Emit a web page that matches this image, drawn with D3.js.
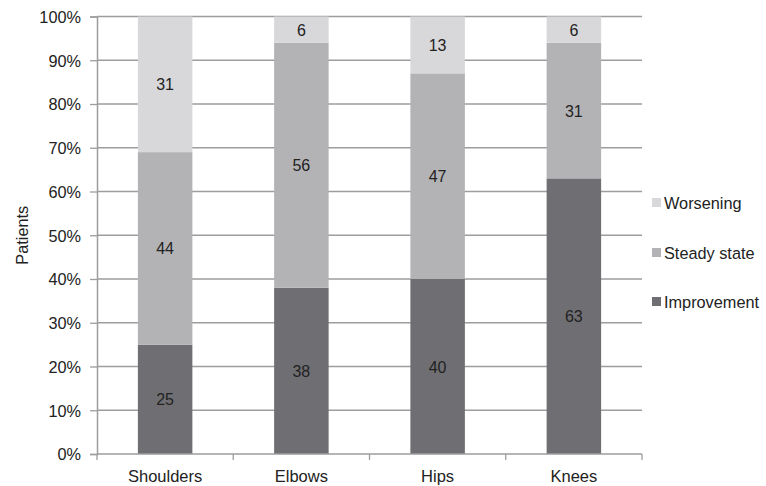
<!DOCTYPE html>
<html><head><meta charset="utf-8">
<script src="https://cdn.jsdelivr.net/npm/d3@7"></script>
<style>body{margin:0;background:#fff}svg{display:block}text{font-family:"Liberation Sans",Arial,Helvetica,sans-serif;fill:#222}</style>
</head><body><svg id="c" width="766" height="486"></svg>
<script>
const categories = ["Shoulders", "Elbows", "Hips", "Knees"];
const improvement = [25, 38, 40, 63];
const steadyState = [44, 56, 47, 31];
const worsening = [31, 6, 13, 6];
const seriesNames = ["Improvement", "Steady state", "Worsening"];
const seriesColors = ["#6f6f73", "#b3b3b6", "#d8d8da"];
const yTicks = [0, 10, 20, 30, 40, 50, 60, 70, 80, 90, 100];

const svg = d3.select("#c");
const m = {l: 97, r: 124, t: 16.5, b: 32};
const W = 766, H = 486;
const x = d3.scaleBand().domain(categories).range([m.l, W - m.r]).paddingInner(0.6).paddingOuter(0.3);
const y = d3.scaleLinear().domain([0, 100]).range([H - m.b, m.t]);
const xb = d3.scaleBand().domain(categories).range([m.l, W - m.r]);

// gridlines
svg.append("g").selectAll("line").data(yTicks.filter(d => d > 0)).join("line")
  .attr("x1", m.l).attr("x2", W - m.r).attr("y1", d => y(d)).attr("y2", d => y(d))
  .attr("stroke", "#9d9d9f").attr("stroke-width", 1.3);

const rows = categories.map((c, i) => ({cat: c, Improvement: improvement[i], "Steady state": steadyState[i], Worsening: worsening[i]}));
const stack = d3.stack().keys(seriesNames)(rows);
const color = d3.scaleOrdinal().domain(seriesNames).range(seriesColors);

const g = svg.append("g");
stack.forEach(s => {
  g.append("g").selectAll("rect").data(s).join("rect")
    .attr("x", d => x(d.data.cat)).attr("width", x.bandwidth())
    .attr("y", d => y(d[1])).attr("height", d => y(d[0]) - y(d[1]))
    .attr("fill", color(s.key));
  g.append("g").selectAll("text").data(s).join("text")
    .attr("x", d => x(d.data.cat) + x.bandwidth() / 2)
    .attr("y", d => (y(d[0]) + y(d[1])) / 2 + 6)
    .attr("text-anchor", "middle").attr("font-size", 16)
    .text(d => d[1] - d[0]);
});

// y axis
const yAxis = d3.axisLeft(y).tickValues(yTicks).tickFormat(d => d + "%").tickSize(7).tickPadding(9);
const ya = svg.append("g").attr("transform", `translate(${m.l},0)`).call(yAxis);
ya.select(".domain").attr("stroke", "#9d9d9f").attr("stroke-width", 1.5);
ya.selectAll(".tick line").attr("stroke", "#9d9d9f").attr("stroke-width", 1.3);
ya.selectAll(".tick text").attr("font-size", 16.3).attr("fill", "#222").attr("font-family", "Liberation Sans, Arial, sans-serif").attr("dy", "0.36em");

// x axis
const xa = svg.append("g").attr("transform", `translate(0,${H - m.b})`);
xa.append("line").attr("x1", m.l).attr("x2", W - m.r).attr("stroke", "#9d9d9f").attr("stroke-width", 1.5);
const bounds = categories.map(c => xb(c)).concat([W - m.r]);
xa.selectAll("line.t").data(bounds).join("line").attr("class", "t")
  .attr("x1", d => d).attr("x2", d => d).attr("y1", 0).attr("y2", 6)
  .attr("stroke", "#9d9d9f").attr("stroke-width", 1.3);
xa.selectAll("text").data(categories).join("text")
  .attr("x", d => xb(d) + xb.bandwidth() / 2).attr("y", 28)
  .attr("text-anchor", "middle").attr("font-size", 16.5).text(d => d);

// y title
svg.append("text").attr("transform", `translate(28,${(m.t + H - m.b) / 2}) rotate(-90)`)
  .attr("text-anchor", "middle").attr("font-size", 16.3).text("Patients");

// legend
const legendY = [203, 253, 302];
const legendOrder = ["Worsening", "Steady state", "Improvement"];
const lg = svg.append("g").selectAll("g").data(legendOrder).join("g")
  .attr("transform", (d, i) => `translate(652,${legendY[i]})`);
lg.append("rect").attr("x", 0).attr("y", -5).attr("width", 9).attr("height", 9).attr("fill", d => color(d));
lg.append("text").attr("x", 12).attr("y", 6).attr("font-size", 16.3).text(d => d);
</script></body></html>
